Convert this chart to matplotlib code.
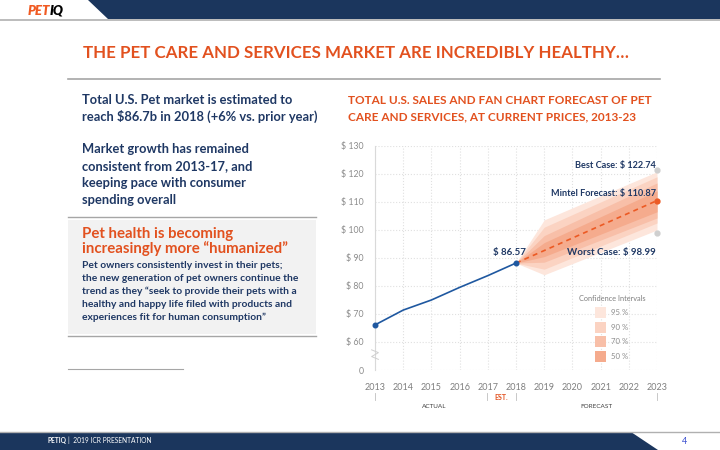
import numpy as np
import matplotlib
matplotlib.use('Agg')
import matplotlib.pyplot as plt
from matplotlib.patches import Polygon, Rectangle

plt.rcParams['font.family'] = ['Lato', 'DejaVu Sans']

# data
years_actual = [2013, 2014, 2015, 2016, 2017, 2018]
sales_actual = [66.1, 71.4, 75.0, 79.5, 83.7, 88.2]

years_fc = [2018, 2023]
sales_fc = [88.2, 110.5]

# fan bands (low / high edge) at 2018, 2019 and 2023
band_years = [2018, 2019, 2023]
band_95_lo = [88.2, 84.0, 100.0]
band_95_hi = [88.2, 103.6, 120.8]
band_90_lo = [88.2, 86.0, 102.5]
band_90_hi = [88.2, 101.0, 119.0]
band_70_lo = [88.2, 88.5, 104.3]
band_70_hi = [88.2, 98.0, 116.8]
band_50_lo = [88.2, 90.5, 106.5]
band_50_hi = [88.2, 95.5, 114.0]

best_case = 121.4
worst_case = 98.99

y_ticks = [50, 60, 70, 80, 90, 100, 110, 120, 130]
y_labels = ['0', '$ 60', '$ 70', '$ 80', '$ 90', '$ 100', '$ 110', '$ 120', '$ 130']
x_ticks = list(range(2013, 2024))

NAVY = '#1b365d'
TXT = '#1f3864'
ORANGE = '#e2511f'
BLUE = '#1f58a0'
GRAY = '#8c8c8c'
c95, c90, c70, c50 = '#fde6dc', '#fbd3c2', '#f8bfa8', '#f5ab8d'

fig = plt.figure(figsize=(7.2, 4.5), dpi=100)

# background layer in pixel coordinates
bg = fig.add_axes([0, 0, 1, 1])
bg.set_xlim(0, 720)
bg.set_ylim(450, 0)
bg.axis('off')

# header band
bg.add_patch(Polygon([(88, 0), (720, 0), (720, 18.5), (108, 18.5)], closed=True, color=NAVY, lw=0))
bg.plot([0, 720], [19.5, 19.5], color='#b0b0b0', lw=1.2)
bg.text(28, 11, 'PET', color='#f05a22', fontsize=9.5, fontweight='heavy', style='italic', va='center')
bg.text(49.5, 11, 'IQ', color='black', fontsize=9.5, fontweight='heavy', style='italic', va='center')

# footer band
bg.add_patch(Polygon([(0, 432), (631, 432), (658, 450), (0, 450)], closed=True, color=NAVY, lw=0))
bg.plot([0, 720], [431.5, 431.5], color='#b0b0b0', lw=1)
bg.text(48, 440.5, 'PETIQ', color='white', fontsize=4.8, fontweight='bold', va='center')
bg.text(67.5, 440.5, '|  2019 ICR PRESENTATION', color='white', fontsize=4.8, va='center')
bg.text(685, 441, '4', color='#3a4fd0', fontsize=6.5, va='center', ha='center')

# slide title
bg.text(356, 53, 'THE PET CARE AND SERVICES MARKET ARE INCREDIBLY HEALTHY\u2026',
        color=ORANGE, fontsize=12.2, fontweight='bold', ha='center', va='center')
bg.plot([68, 660], [79, 79], color='#a6a6a6', lw=1.2)

# left column text
left_lines = [('Total U.S. Pet market is estimated to', 100),
              ('reach $86.7b in 2018 (+6% vs. prior year)', 116),
              ('Market growth has remained', 149),
              ('consistent from 2013-17, and', 166),
              ('keeping pace with consumer', 183),
              ('spending overall', 200)]
for s, y in left_lines:
    bg.text(82, y, s, color=TXT, fontsize=9.3, fontweight='bold', va='center')

bg.plot([68, 316], [217, 217], color='#a6a6a6', lw=1)
bg.add_patch(Rectangle((68, 219.5), 248, 114, color='#f2f2f2', lw=0))
bg.plot([68, 316], [336, 336], color='#a6a6a6', lw=1)
bg.plot([68, 183], [369, 369], color='#a6a6a6', lw=0.8)

bg.text(82, 234, 'Pet health is becoming', color=ORANGE, fontsize=10.8, fontweight='bold', va='center')
bg.text(82, 249, 'increasingly more \u201chumanized\u201d', color=ORANGE, fontsize=10.8, fontweight='bold', va='center')
body = ['Pet owners consistently invest in their pets;',
        'the new generation of pet owners continue the',
        'trend as they \u201cseek to provide their pets with a',
        'healthy and happy life filed with products and',
        'experiences fit for human consumption\u201d']
for i, s in enumerate(body):
    bg.text(82, 265 + i * 13.1, s, color=TXT, fontsize=7.4, fontweight='bold', va='center')

# chart title
bg.text(348, 101, 'TOTAL U.S. SALES AND FAN CHART FORECAST OF PET', color=ORANGE,
        fontsize=8.5, fontweight='bold', va='center')
bg.text(348, 117, 'CARE AND SERVICES, AT CURRENT PRICES, 2013-23', color=ORANGE,
        fontsize=8.5, fontweight='bold', va='center')

# x-axis group labels under the chart
for xp in [375, 487, 516, 657]:
    bg.plot([xp, xp], [393, 400], color='#bfbfbf', lw=0.6)
bg.text(501.5, 397, 'EST.', color=ORANGE, fontsize=5, fontweight='bold', ha='center', va='center')
bg.text(434, 406, 'ACTUAL', color='#404040', fontsize=4.6, ha='center', va='center')
bg.text(596, 406, 'FORECAST', color='#404040', fontsize=4.6, ha='center', va='center')

# chart axes
x0, x1 = 375, 657
y_top, y_bot = 146, 370
ax = fig.add_axes([x0 / 720, 1 - y_bot / 450, (x1 - x0) / 720, (y_bot - y_top) / 450])
ax.set_xlim(2013, 2023)
ax.set_ylim(50, 130)
ax.patch.set_alpha(0)
for sp in ['top', 'right', 'bottom']:
    ax.spines[sp].set_visible(False)
ax.spines['left'].set_color('#d9d9d9')
ax.spines['left'].set_linewidth(0.8)
ax.set_xticks(x_ticks)
ax.set_yticks(y_ticks)
ax.set_yticklabels(y_labels)
ax.tick_params(length=0, labelsize=6.3, labelcolor=GRAY, pad=8)
ax.tick_params(axis='x', pad=9, labelsize=6.5, labelcolor='#7f7f7f')
ax.grid(True, color='#e0e0e0', linestyle=':', linewidth=0.8)

# fan chart
ax.fill_between(band_years, band_95_lo, band_95_hi, color=c95, lw=0, zorder=2)
ax.fill_between(band_years, band_90_lo, band_90_hi, color=c90, lw=0, zorder=2)
ax.fill_between(band_years, band_70_lo, band_70_hi, color=c70, lw=0, zorder=2)
ax.fill_between(band_years, band_50_lo, band_50_hi, color=c50, lw=0, zorder=2)

ax.plot(years_fc, sales_fc, color='#ec5a24', lw=1.2, ls=(0, (3, 2.5)), zorder=3)
ax.plot(years_actual, sales_actual, color=BLUE, lw=1.2, zorder=4)
ax.plot([years_actual[0], years_actual[-1]], [sales_actual[0], sales_actual[-1]], 'o',
        color=BLUE, ms=3.3, zorder=5, clip_on=False)
ax.plot([2023], [sales_fc[-1]], 'o', color='#ec5a24', ms=3.5, zorder=5, clip_on=False)
ax.plot([2023, 2023], [best_case, worst_case], 'o', color='#cfcfcf', ms=3.5, zorder=5, clip_on=False)

# axis break mark
ax.plot([2012.88, 2013.12, 2012.88, 2013.12], [57.2, 56.2, 54.8, 53.8], color='#cfcfcf', lw=0.7,
        clip_on=False, zorder=6)

# annotations
ann = dict(color=TXT, fontweight='bold', va='center')
ax.text(2017.75, 92.1, '$ 86.57', fontsize=7, ha='center', **ann)
ax.text(2022.95, 123.2, 'Best Case: $ 122.74', fontsize=6.6, ha='right', **ann)
ax.text(2022.95, 112.9, 'Mintel Forecast: $ 110.87', fontsize=6.6, ha='right', **ann)
ax.text(2022.95, 91.8, 'Worst Case: $ 98.99', fontsize=7, ha='right', **ann)

# legend for confidence intervals
ax.text(2021.4, 75.4, 'Confidence Intervals', fontsize=5.3, color='#7f7f7f', ha='center', va='center')
leg = [('95 %', c95), ('90 %', c90), ('70 %', c70), ('50 %', c50)]
for i, (lab, col) in enumerate(leg):
    yc = 70.4 - i * 5.15
    ax.add_patch(Rectangle((2020.8, yc - 1.95), 0.39, 3.9, color=col, lw=0, zorder=6))
    ax.text(2021.37, yc, lab, fontsize=5.6, color='#8c8c8c', va='center', zorder=6)

fig.savefig('out.png', dpi=100)
